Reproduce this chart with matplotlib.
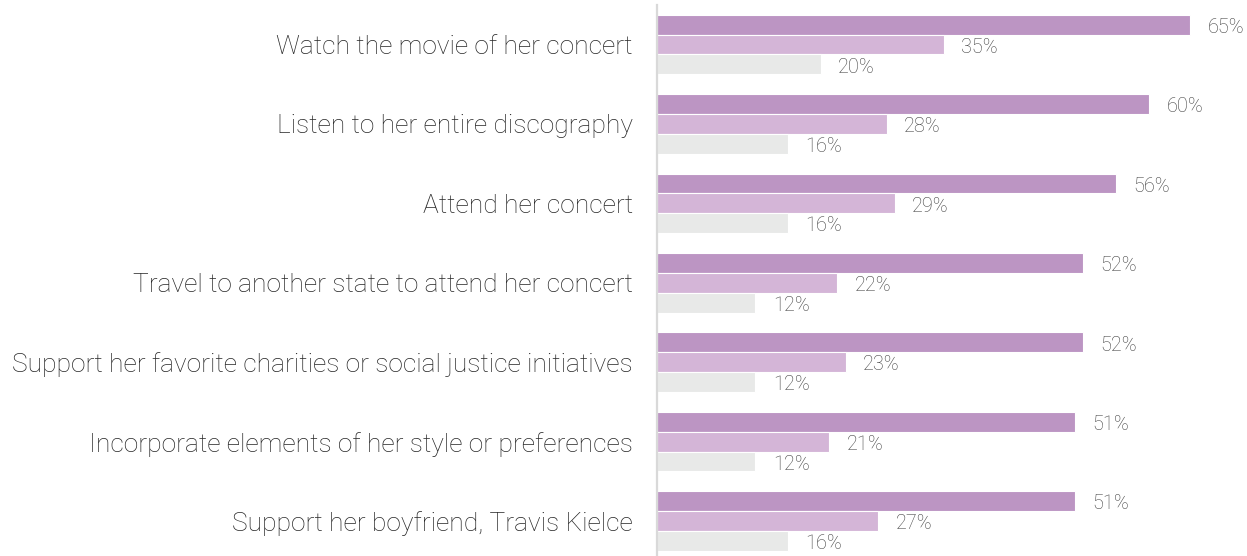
import numpy as np
import matplotlib.pyplot as plt

# Survey items (top to bottom)
categories = [
    "Watch the movie of her concert",
    "Listen to her entire discography",
    "Attend her concert",
    "Travel to another state to attend her concert",
    "Support her favorite charities or social justice initiatives",
    "Incorporate elements of her style or preferences",
    "Support her boyfriend, Travis Kielce",
]

# Three series, percent
series_a = [65, 60, 56, 52, 52, 51, 51]
series_b = [35, 28, 29, 22, 23, 21, 27]
series_c = [20, 16, 16, 12, 12, 12, 16]

colors = ["#BC95C3", "#D4B5D7", "#E8E9E8"]

plt.rcParams['font.family'] = ['Roboto', 'DejaVu Sans']
plt.rcParams['font.weight'] = 'light'

fig = plt.figure(figsize=(12.47, 5.56), dpi=100)
ax = fig.add_axes([657 / 1247, 0, 1 - 657 / 1247, 1 - 5 / 556])

y = np.arange(len(categories))
h = 0.25
for i, (vals, c) in enumerate(zip([series_a, series_b, series_c], colors)):
    pos = y + (i - 1) * h
    ax.barh(pos, vals, height=h, color=c, edgecolor="white", linewidth=0.8)
    for p, v in zip(pos, vals):
        ax.annotate(f"{v}%", (v, p), xytext=(12.5, -2), textcoords="offset points",
                    va="center", ha="left", fontsize=14.3, color="#404040",
                    fontweight="light")

ax.set_xlim(0, 590 / 8.2)
ax.set_ylim(6.44, -0.497)
ax.set_yticks(y)
ax.set_yticklabels(categories, fontsize=19, color="#262626", fontweight="light")
ax.tick_params(axis="y", length=0, pad=17.5)
ax.set_xticks([])
for s in ["top", "right", "bottom"]:
    ax.spines[s].set_visible(False)
ax.spines["left"].set_color("#D9D9D9")
ax.spines["left"].set_linewidth(1.6)

fig.savefig("out.png", dpi=100)
